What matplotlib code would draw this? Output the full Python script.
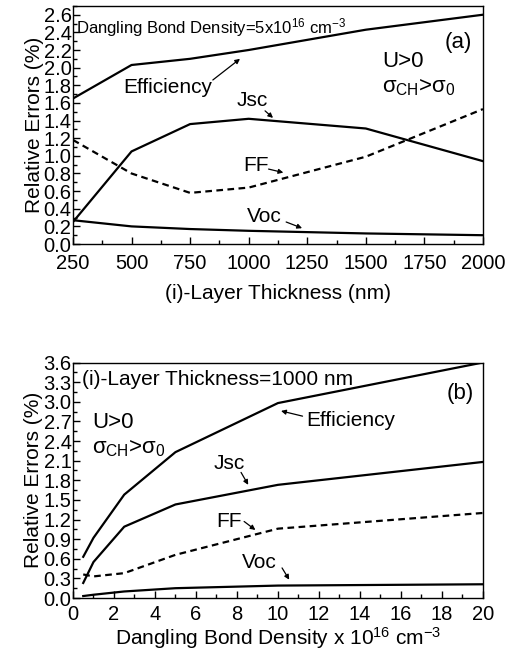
import matplotlib
matplotlib.use("Agg")
import matplotlib.pyplot as plt
from matplotlib.ticker import MultipleLocator

plt.rcParams['font.family'] = ['Liberation Sans', 'DejaVu Sans']
plt.rcParams['mathtext.fontset'] = 'custom'
plt.rcParams['mathtext.rm'] = 'Liberation Sans'
plt.rcParams['mathtext.it'] = 'Liberation Sans'

# (a) relative errors versus i-layer thickness
thickness = [250, 500, 750, 1000, 1500, 2000]
eff_a = [1.65, 2.03, 2.10, 2.20, 2.43, 2.60]
jsc_a = [0.25, 1.05, 1.36, 1.42, 1.31, 0.94]
ff_a = [1.18, 0.80, 0.58, 0.64, 0.99, 1.53]
voc_a = [0.27, 0.20, 0.17, 0.15, 0.12, 0.10]

# (b) relative errors versus dangling bond density
density = [0.5, 1, 2.5, 5, 10, 20]
eff_b = [0.63, 0.92, 1.58, 2.23, 2.98, 3.60]
jsc_b = [0.23, 0.55, 1.09, 1.43, 1.73, 2.08]
ff_b = [0.36, 0.33, 0.38, 0.66, 1.06, 1.30]
voc_b = [0.03, 0.05, 0.10, 0.15, 0.19, 0.21]

fig = plt.figure(figsize=(5.15, 6.56), dpi=100)
ax1 = fig.add_axes([0.1417, 0.628, 0.796, 0.363])
ax2 = fig.add_axes([0.1417, 0.0884, 0.796, 0.359])

lw = 1.6
fs = 15
for ax, x, series in [(ax1, thickness, (eff_a, jsc_a, ff_a, voc_a)),
                      (ax2, density, (eff_b, jsc_b, ff_b, voc_b))]:
    eff, jsc, ff, voc = series
    ax.plot(x, eff, 'k-', lw=lw)
    ax.plot(x, jsc, 'k-', lw=lw)
    ax.plot(x, ff, 'k--', lw=lw, dashes=(3, 2))
    ax.plot(x, voc, 'k-', lw=lw)
    ax.tick_params(which='both', direction='in', labelsize=14.5, width=1.0)
    ax.tick_params(axis='y', pad=1)
    ax.tick_params(which='major', length=5)
    ax.tick_params(which='minor', length=3)
    for s in ax.spines.values():
        s.set_linewidth(1.0)
    ax.set_ylabel('Relative Errors (%)', fontsize=15, labelpad=0)

ax1.tick_params(axis='x', pad=7)
ax2.tick_params(axis='x', pad=5)

ax1.set_xlim(250, 2000)
ax1.set_ylim(0, 2.7)
ax1.xaxis.set_major_locator(MultipleLocator(250))
ax1.xaxis.set_minor_locator(MultipleLocator(125))
ax1.set_yticks([i * 0.2 for i in range(14)])
ax1.set_yticklabels(['%.1f' % (i * 0.2) for i in range(14)])
ax1.yaxis.set_minor_locator(MultipleLocator(0.1))
ax1.set_xlabel('(i)-Layer Thickness (nm)', fontsize=15, labelpad=8)

ax2.set_xlim(0, 20)
ax2.set_ylim(0, 3.6)
ax2.xaxis.set_major_locator(MultipleLocator(2))
ax2.xaxis.set_minor_locator(MultipleLocator(1))
ax2.set_yticks([i * 0.3 for i in range(13)])
ax2.set_yticklabels(['%.1f' % (i * 0.3) for i in range(13)])
ax2.yaxis.set_minor_locator(MultipleLocator(0.15))
ax2.set_xlabel(r'Dangling Bond Density x 10$^{16}$ cm$^{-3}$', fontsize=15,
               labelpad=1)

arrow = dict(arrowstyle='-|>', color='k', lw=0.9, mutation_scale=7,
             shrinkA=0, shrinkB=0)

# annotations for (a)
ax1.text(265, 2.46, r'Dangling Bond Density=5x10$^{16}$ cm$^{-3}$',
         fontsize=12, va='center')
ax1.text(1955, 2.28, '(a)', fontsize=16, ha='right', va='center')
ax1.text(1570, 2.07, 'U>0', fontsize=16, va='center')
ax1.text(1570, 1.77, r'$\sigma_{\rm CH}$>$\sigma_{\rm 0}$', fontsize=16,
         va='center')
ax1.text(463, 1.78, 'Efficiency', fontsize=fs, va='center')
ax1.annotate('', xy=(963, 2.10), xytext=(847, 1.86), arrowprops=arrow)
ax1.text(1015, 1.63, 'Jsc', fontsize=fs, ha='center', va='center')
ax1.annotate('', xy=(1104, 1.43), xytext=(1070, 1.51), arrowprops=arrow)
ax1.text(1030, 0.89, 'FF', fontsize=fs, ha='center', va='center')
ax1.annotate('', xy=(1148, 0.81), xytext=(1085, 0.85), arrowprops=arrow)
ax1.text(1065, 0.31, 'Voc', fontsize=fs, ha='center', va='center')
ax1.annotate('', xy=(1228, 0.18), xytext=(1160, 0.25), arrowprops=arrow)

# annotations for (b)
ax2.text(0.45, 3.34, '(i)-Layer Thickness=1000 nm', fontsize=15,
         va='center')
ax2.text(19.55, 3.12, '(b)', fontsize=16, ha='right', va='center')
ax2.text(0.93, 2.68, 'U>0', fontsize=16, va='center')
ax2.text(0.93, 2.28, r'$\sigma_{\rm CH}$>$\sigma_{\rm 0}$', fontsize=16,
         va='center')
ax2.text(11.4, 2.72, 'Efficiency', fontsize=fs, va='center')
ax2.annotate('', xy=(10.15, 2.86), xytext=(11.2, 2.78), arrowprops=arrow)
ax2.text(7.6, 2.06, 'Jsc', fontsize=fs, ha='center', va='center')
ax2.annotate('', xy=(8.55, 1.73), xytext=(8.2, 1.92), arrowprops=arrow)
ax2.text(7.6, 1.17, 'FF', fontsize=fs, ha='center', va='center')
ax2.annotate('', xy=(8.9, 1.04), xytext=(8.35, 1.17), arrowprops=arrow)
ax2.text(9.1, 0.55, 'Voc', fontsize=fs, ha='center', va='center')
ax2.annotate('', xy=(10.55, 0.28), xytext=(10.2, 0.46), arrowprops=arrow)

fig.savefig('out.png', dpi=100)
